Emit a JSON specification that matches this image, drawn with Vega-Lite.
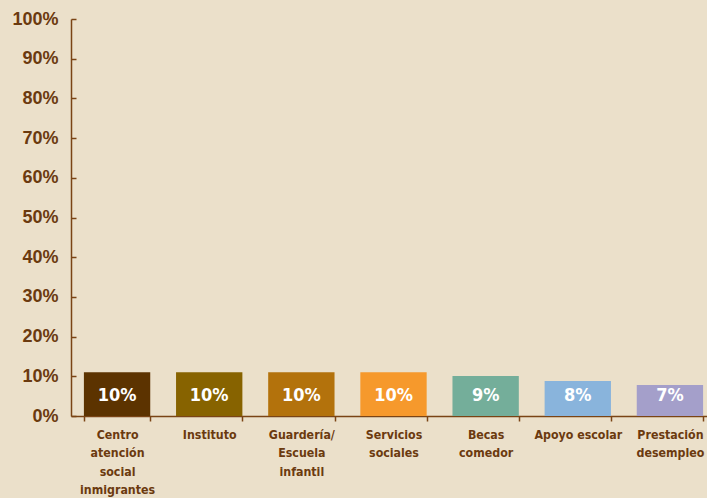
{
  "$schema": "https://vega.github.io/schema/vega-lite/v6.json",
  "autosize": {"type": "none"},
  "width": 637,
  "height": 397,
  "padding": {"left": 71, "top": 19, "right": 0, "bottom": 82},
  "background": "#ebe0ca",
  "config": {
    "view": {"stroke": null},
    "axis": {"domainColor": "#7a4415", "tickColor": "#7a4415", "labelColor": "#6b3a0f", "grid": false, "domainWidth": 1.5, "tickWidth": 1.5},
    "axisY": {
      "title": null,
      "values": [0, 10, 20, 30, 40, 50, 60, 70, 80, 90, 100],
      "labelExpr": "datum.value + '%'",
      "labelFont": "Liberation Sans",
      "labelFontWeight": "bold",
      "labelFontSize": 18,
      "labelOverlap": false,
      "labelSeparation": 0,
      "tickSize": -5,
      "labelPadding": 18
    }
  },
  "data": {
    "values": [
      {"categoria": "Centro|atención|social|inmigrantes", "valor": 11.0, "etiqueta": "10%"},
      {"categoria": "Instituto", "valor": 11.0, "etiqueta": "10%"},
      {"categoria": "Guardería/|Escuela|infantil", "valor": 11.0, "etiqueta": "10%"},
      {"categoria": "Servicios|sociales", "valor": 11.0, "etiqueta": "10%"},
      {"categoria": "Becas|comedor", "valor": 10.1, "etiqueta": "9%"},
      {"categoria": "Apoyo escolar", "valor": 8.8, "etiqueta": "8%"},
      {"categoria": "Prestación|desempleo", "valor": 7.8, "etiqueta": "7%"}
    ]
  },
  "encoding": {
    "x": {
      "field": "categoria",
      "type": "nominal",
      "sort": null,
      "scale": {"range": [0, 645], "paddingInner": 0.28, "paddingOuter": 0.14},
      "axis": {
        "title": null,
        "labelAngle": 0,
        "labelExpr": "split(datum.label, '|')",
        "labelFont": "DejaVu Sans Condensed",
        "labelFontWeight": "bold",
        "labelFontSize": 12.3,
        "labelLineHeight": 18.5,
        "labelPadding": 7,
        "tickBand": "extent",
        "tickSize": 5,
        "labelBaseline": "top"
      }
    }
  },
  "layer": [
    {
      "mark": {"type": "bar"},
      "encoding": {
        "y": {
          "field": "valor",
          "type": "quantitative",
          "scale": {"domain": [0, 100]}
        },
        "color": {
          "field": "categoria",
          "type": "nominal",
          "sort": null,
          "scale": {"range": ["#5c3300", "#876300", "#b3720c", "#f6992c", "#74ae9a", "#89b4dc", "#a49fca"]},
          "legend": null
        }
      }
    },
    {
      "mark": {"type": "text", "color": "#ffffff", "font": "DejaVu Sans Condensed", "fontWeight": "bold", "fontSize": 18, "baseline": "middle"},
      "encoding": {
        "y": {"datum": 5, "type": "quantitative"},
        "text": {"field": "etiqueta"}
      }
    }
  ]
}
